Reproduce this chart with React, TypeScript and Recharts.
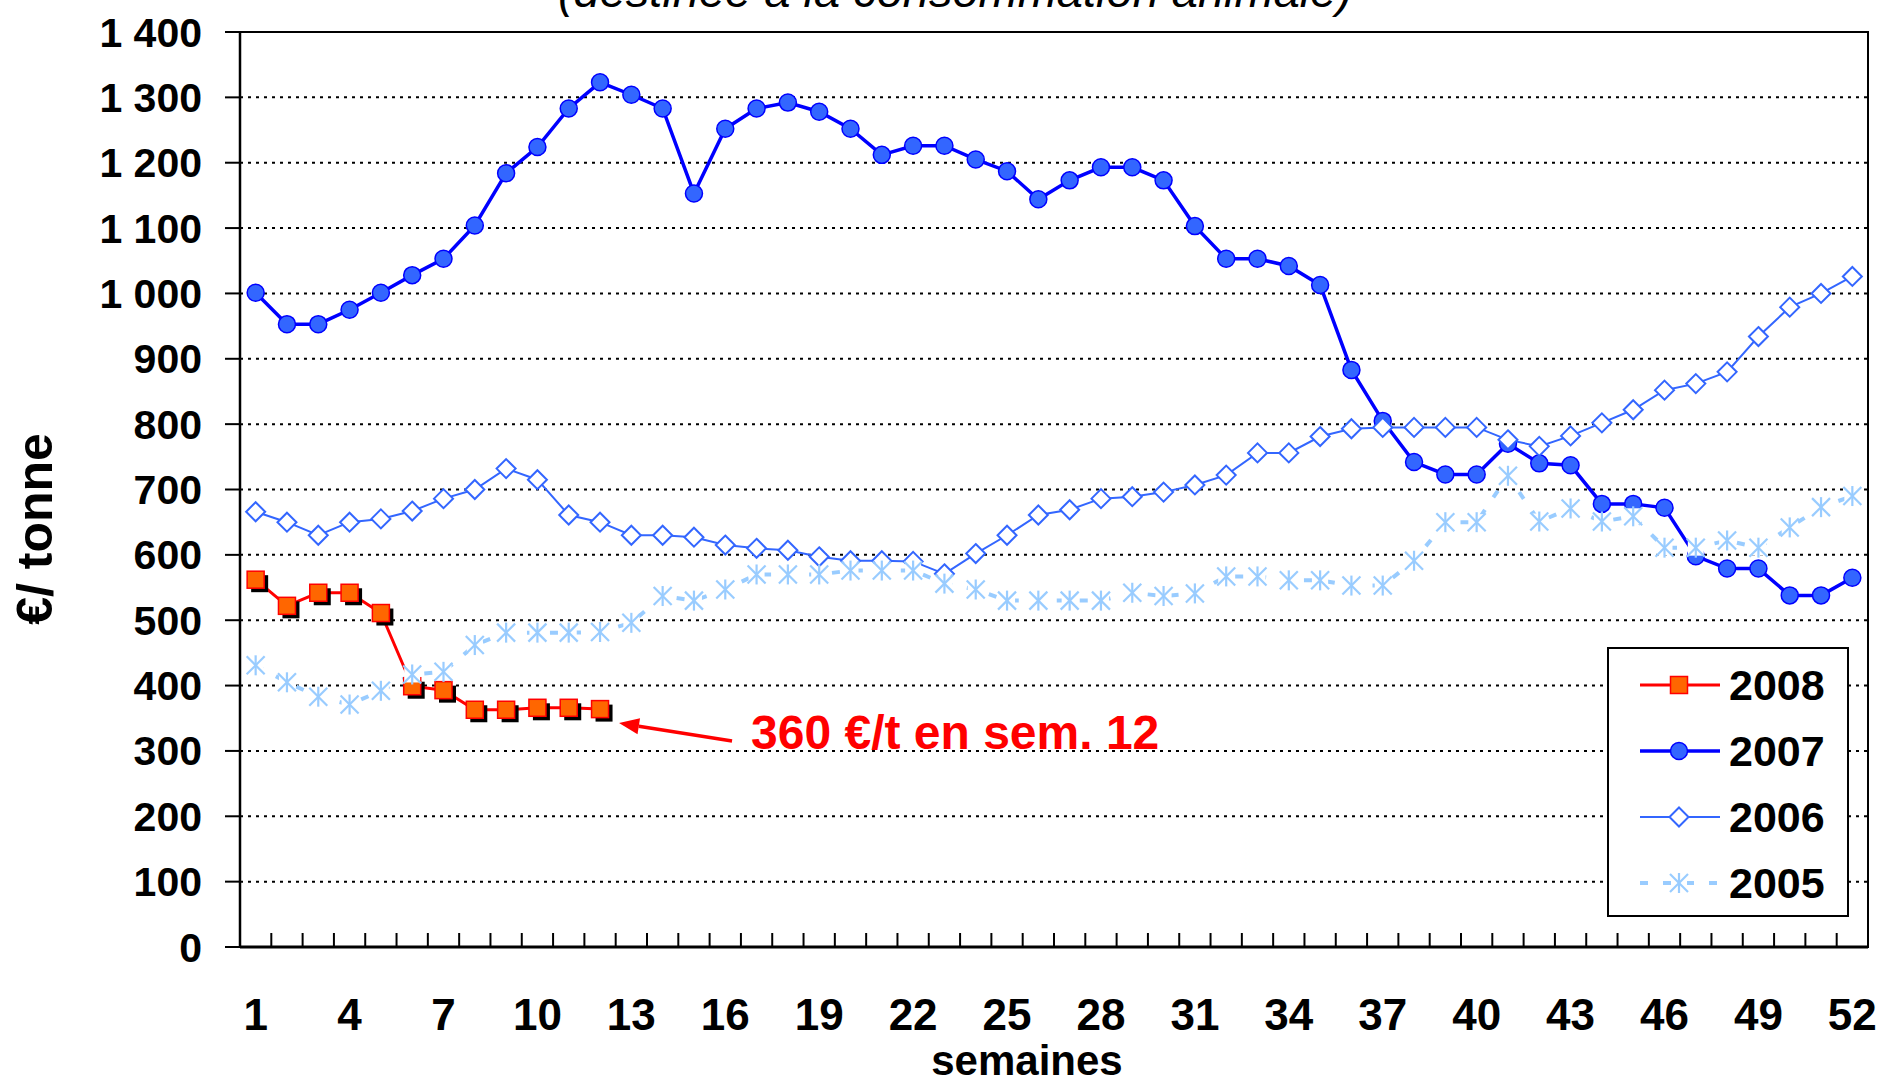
import React from 'react';
import {
  LineChart, Line, XAxis, YAxis, CartesianGrid, ReferenceArea, Legend, LabelList, Customized,
} from 'recharts';

// semaines 1..52
const weeks = [
  1, 2, 3, 4, 5, 6, 7, 8, 9, 10, 11, 12, 13, 14, 15, 16, 17, 18, 19, 20, 21, 22, 23, 24, 25, 26,
  27, 28, 29, 30, 31, 32, 33, 34, 35, 36, 37, 38, 39, 40, 41, 42, 43, 44, 45, 46, 47, 48, 49, 50, 51, 52,
];
const weekTicks = [1, 4, 7, 10, 13, 16, 19, 22, 25, 28, 31, 34, 37, 40, 43, 46, 49, 52];
const priceTicks = [0, 100, 200, 300, 400, 500, 600, 700, 800, 900, 1000, 1100, 1200, 1300, 1400];

// €/tonne
const prix2008 = [562, 522, 542, 542, 511, 399, 393, 363, 363, 366, 366, 364];
const prix2007 = [
  1001, 953, 953, 975, 1001, 1028, 1053, 1104, 1184, 1224, 1283, 1323, 1304, 1283, 1153, 1252, 1283,
  1292, 1278, 1252, 1212, 1226, 1226, 1205, 1187, 1144, 1173, 1193, 1193, 1173, 1103, 1053, 1053, 1042,
  1013, 883, 805, 742, 723, 723, 770, 740, 737, 678, 678, 672, 598, 579, 579, 538, 538, 565,
];
const prix2006 = [
  666, 650, 630, 650, 655, 667, 686, 700, 732, 715, 661, 650, 630, 630, 627, 615, 610, 607, 597, 591,
  591, 590, 571, 602, 630, 661, 669, 686, 689, 696, 707, 722, 756, 756, 781, 793, 795, 795, 795, 795,
  776, 766, 782, 802, 822, 852, 862, 880, 934, 979, 1000, 1026,
];
const prix2005 = [
  431, 405, 383, 371, 392, 417, 421, 462, 481, 481, 481, 482, 496, 537, 530, 547, 570, 570, 570, 576,
  576, 576, 556, 547, 530, 530, 530, 530, 542, 537, 541, 567, 567, 561, 561, 553, 553, 591, 650, 650,
  721, 651, 671, 651, 659, 611, 611, 622, 611, 642, 673, 690,
];

const FONT = '"Liberation Sans", Arial, Helvetica, sans-serif';

const data = weeks.map((week, i) => ({
  week,
  y2008: prix2008[i] ?? null,
  y2007: prix2007[i] ?? null,
  y2006: prix2006[i] ?? null,
  y2005: prix2005[i] ?? null,
}));

// limites entre les semaines (petits traits de l'axe des x)
const weekBounds = [weeks[0] - 0.5, ...weeks.map((w) => w + 0.5)];

const fmtPrice = (v: number) =>
  v >= 1000 ? `${Math.floor(v / 1000)} ${String(v % 1000).padStart(3, '0')}` : String(v);

const SquareMark = ({ cx, cy, shadow }: { cx: number; cy: number; shadow?: boolean }) => (
  <g>
    {shadow && <rect x={cx - 8.5 + 4} y={cy - 8.5 + 4} width={17} height={17} fill="#000" />}
    <rect x={cx - 8.5} y={cy - 8.5} width={17} height={17} fill="#FF6600" stroke="#FF0000" strokeWidth={1.5} />
  </g>
);

const CircleMark = ({ cx, cy }: { cx: number; cy: number }) => (
  <circle cx={cx} cy={cy} r={8.5} fill="#3366FF" stroke="#0000FF" strokeWidth={1.5} />
);

const DiamondMark = ({ cx, cy }: { cx: number; cy: number }) => (
  <polygon
    points={`${cx},${cy - 9.5} ${cx + 9.5},${cy} ${cx},${cy + 9.5} ${cx - 9.5},${cy}`}
    fill="#fff"
    stroke="#3366FF"
    strokeWidth={2}
  />
);

const StarMark = ({ cx, cy, bg }: { cx: number; cy: number; bg?: boolean }) => (
  <g stroke="#99CCFF" strokeWidth={2.2}>
    {bg && <rect x={cx - 8} y={cy - 8} width={16} height={16} fill="#fff" stroke="none" />}
    <line x1={cx} y1={cy - 10} x2={cx} y2={cy + 10} />
    <line x1={cx - 9} y1={cy - 9} x2={cx + 9} y2={cy + 9} />
    <line x1={cx - 9} y1={cy + 9} x2={cx + 9} y2={cy - 9} />
  </g>
);

const dotFn = (kind: string) => (props: any) => {
  const { cx, cy, index, value } = props;
  const key = `${kind}-${index}`;
  if (cx == null || cy == null || value == null || Number.isNaN(cy)) return <g key={key} />;
  if (kind === 'sq') return <g key={key}><SquareMark cx={cx} cy={cy} shadow /></g>;
  if (kind === 'ci') return <g key={key}><CircleMark cx={cx} cy={cy} /></g>;
  if (kind === 'di') return <g key={key}><DiamondMark cx={cx} cy={cy} /></g>;
  return <g key={key}><StarMark cx={cx} cy={cy} bg /></g>;
};

// petits traits verticaux entre les semaines, vers l'intérieur du graphique
const BoundTick = (props: any) => {
  const { x, y } = props;
  return <line x1={x} y1={y} x2={x} y2={y - 15} stroke="#000" strokeWidth={2} />;
};

const series = [
  { key: 'y2008', name: '2008', color: '#FF0000', width: 3, dash: undefined, mark: 'sq' },
  { key: 'y2007', name: '2007', color: '#0000FF', width: 3.5, dash: undefined, mark: 'ci' },
  { key: 'y2006', name: '2006', color: '#3366FF', width: 2, dash: undefined, mark: 'di' },
  { key: 'y2005', name: '2005', color: '#99CCFF', width: 4, dash: '8 15', mark: 'st' },
];

const LegendBox = () => (
  <svg width={242} height={270} style={{ display: 'block' }}>
    <rect x={1} y={1} width={240} height={268} fill="#fff" stroke="#000" strokeWidth={2} />
    {series.map((s, i) => {
      const cy = 38 + i * 66;
      return (
        <g key={s.key}>
          <line x1={33} y1={cy} x2={113} y2={cy} stroke={s.color} strokeWidth={s.width} strokeDasharray={s.dash} />
          {s.mark === 'sq' && <SquareMark cx={72} cy={cy} />}
          {s.mark === 'ci' && <CircleMark cx={72} cy={cy} />}
          {s.mark === 'di' && <DiamondMark cx={72} cy={cy} />}
          {s.mark === 'st' && <StarMark cx={72} cy={cy} bg />}
          <text x={122} y={cy + 15} fontFamily={FONT} fontSize={43} fontWeight="bold" fill="#000">
            {s.name}
          </text>
        </g>
      );
    })}
  </svg>
);

const Callout = (props: any) => {
  const { index } = props;
  if (index !== prix2008.length - 1) return null;
  const px = props.viewBox?.x ?? props.x;
  const py = props.viewBox?.y ?? props.y;
  if (px == null || py == null) return null;
  const tip = { x: px + 19, y: py + 14 };
  const start = { x: px + 132, y: py + 32 };
  const dx = tip.x - start.x;
  const dy = tip.y - start.y;
  const len = Math.hypot(dx, dy);
  const ux = dx / len;
  const uy = dy / len;
  const base = { x: tip.x - ux * 20, y: tip.y - uy * 20 };
  const nx = -uy * 8;
  const ny = ux * 8;
  return (
    <g>
      <line x1={start.x} y1={start.y} x2={base.x} y2={base.y} stroke="#FF0000" strokeWidth={3.5} />
      <polygon
        points={`${tip.x},${tip.y} ${base.x + nx},${base.y + ny} ${base.x - nx},${base.y - ny}`}
        fill="#FF0000"
      />
      <text x={px + 151} y={py + 40} fill="#FF0000" fontFamily={FONT} fontSize={48} fontWeight="bold">
        360 €/t en sem. 12
      </text>
    </g>
  );
};

const Titles = () => (
  <g fontFamily={FONT} fill="#000">
    <text x={955} y={7} textAnchor="middle" fontSize={47} fontStyle="italic">
      (destinée à la consommation animale)
    </text>
    <text x={52} y={529} transform="rotate(-90 52 529)" textAnchor="middle" fontSize={50} fontWeight="bold">
      €/ tonne
    </text>
    <text x={1027} y={1075} textAnchor="middle" fontSize={42} fontWeight="bold">
      semaines
    </text>
  </g>
);

export default function App() {
  return (
    <div style={{ position: 'absolute', left: 0, top: 0, width: 1885, height: 1082, background: '#fff' }}>
      <LineChart width={1885} height={1082} data={data} margin={{ top: 32, right: 17, bottom: 133, left: 0 }}>
        <CartesianGrid vertical={false} stroke="#000" strokeDasharray="3 5" strokeWidth={2} />
        <XAxis
          xAxisId="bounds"
          dataKey="week"
          type="number"
          domain={[weekBounds[0], weekBounds[weekBounds.length - 1]]}
          ticks={weekBounds}
          interval={0}
          height={1}
          tick={<BoundTick />}
          tickSize={0}
          tickMargin={0}
          tickLine={false}
          axisLine={false}
        />
        <XAxis
          dataKey="week"
          type="number"
          domain={[weekBounds[0], weekBounds[weekBounds.length - 1]]}
          ticks={weekTicks}
          interval={0}
          height={1}
          tickLine={false}
          tickSize={0}
          tickMargin={52}
          axisLine={{ stroke: '#000', strokeWidth: 3 }}
          tick={{ fill: '#000', fontSize: 44, fontWeight: 'bold', fontFamily: FONT }}
        />
        <YAxis
          width={240}
          domain={[0, 1400]}
          ticks={priceTicks}
          interval={0}
          tickFormatter={fmtPrice}
          tickSize={15}
          tickMargin={23}
          tickLine={{ stroke: '#000', strokeWidth: 2 }}
          axisLine={{ stroke: '#000', strokeWidth: 2.5 }}
          tick={{ fill: '#000', fontSize: 41, fontWeight: 'bold', fontFamily: FONT }}
        />
        <ReferenceArea
          x1={weekBounds[0]}
          x2={weekBounds[weekBounds.length - 1]}
          y1={0}
          y2={1400}
          fill="none"
          fillOpacity={0}
          stroke="#000"
          strokeWidth={2}
        />
        {series.map((s) => (
          <Line
            key={s.key}
            dataKey={s.key}
            name={s.name}
            type="linear"
            stroke={s.color}
            strokeWidth={s.width}
            strokeDasharray={s.dash}
            dot={dotFn(s.mark)}
            activeDot={false}
            isAnimationActive={false}
          >
            {s.key === 'y2008' && <LabelList dataKey="y2008" content={Callout} />}
          </Line>
        ))}
        <Legend
          layout="vertical"
          align="center"
          verticalAlign="middle"
          width={242}
          height={270}
          wrapperStyle={{ left: 1607, top: 647, width: 242, height: 270 }}
          content={() => <LegendBox />}
        />
        <Customized component={<Titles />} />
      </LineChart>
    </div>
  );
}
